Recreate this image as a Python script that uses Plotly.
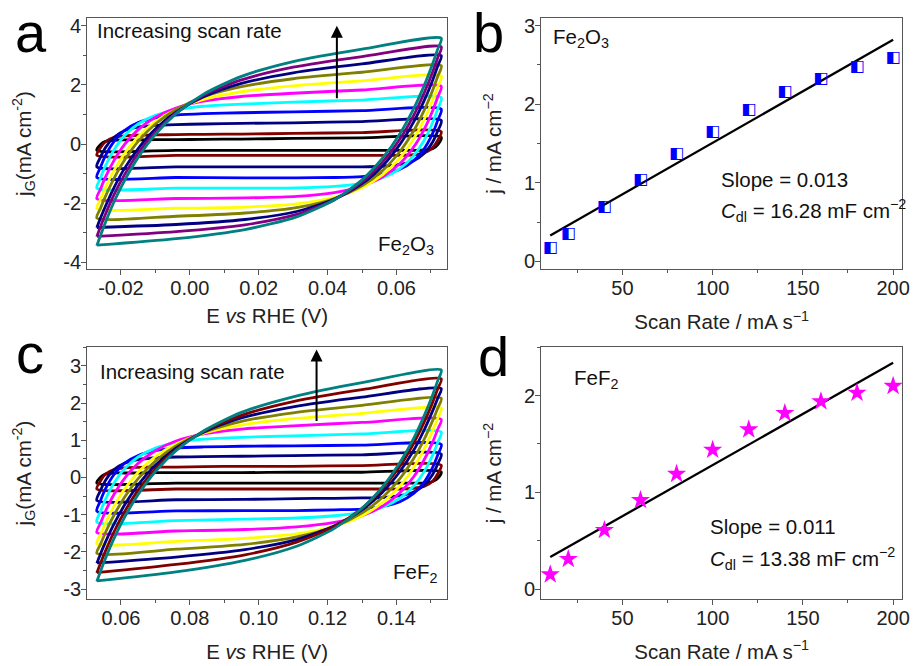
import plotly.graph_objects as go

FONT = "Liberation Sans, Arial, sans-serif"

# ---------------- Panel a: CV loops of Fe2O3 (E in V, j in mA cm^-2) ----------------
E_fwd_a = [-0.027, -0.026, -0.0245, -0.022, -0.019, -0.015, -0.010, -0.004, 0.004, 0.015, 0.030, 0.050, 0.073]
E_rev_a = [0.073, 0.072, 0.0705, 0.068, 0.065, 0.061, 0.056, 0.050, 0.042, 0.031, 0.016, -0.004, -0.027]
j_fwd_a = [
    [-0.21, -0.02, 0.09, 0.13, 0.14, 0.14, 0.15, 0.15, 0.16, 0.17, 0.19, 0.21, 0.23],
    [-0.38, -0.13, 0.08, 0.23, 0.28, 0.30, 0.31, 0.32, 0.33, 0.34, 0.36, 0.39, 0.42],
    [-0.77, -0.46, -0.12, 0.23, 0.45, 0.57, 0.63, 0.66, 0.68, 0.70, 0.72, 0.76, 0.80],
    [-1.13, -0.80, -0.39, 0.09, 0.46, 0.73, 0.89, 0.98, 1.03, 1.06, 1.09, 1.13, 1.18],
    [-1.49, -1.16, -0.74, -0.19, 0.28, 0.68, 0.97, 1.16, 1.28, 1.35, 1.42, 1.49, 1.57],
    [-1.85, -1.54, -1.12, -0.55, -0.02, 0.49, 0.91, 1.22, 1.45, 1.61, 1.72, 1.83, 1.95],
    [-2.18, -1.88, -1.47, -0.89, -0.33, 0.25, 0.76, 1.17, 1.51, 1.77, 1.97, 2.14, 2.30],
    [-2.50, -2.19, -1.77, -1.16, -0.55, 0.09, 0.68, 1.17, 1.60, 1.94, 2.21, 2.43, 2.65],
    [-2.83, -2.52, -2.10, -1.47, -0.83, -0.15, 0.51, 1.08, 1.60, 2.05, 2.41, 2.71, 2.99],
    [-3.13, -2.81, -2.37, -1.71, -1.04, -0.30, 0.41, 1.05, 1.65, 2.17, 2.60, 2.96, 3.29],
    [-3.44, -3.11, -2.65, -1.95, -1.24, -0.45, 0.33, 1.03, 1.69, 2.29, 2.79, 3.21, 3.58],
]
j_rev_a = [
    [0.23, -0.02, -0.16, -0.20, -0.21, -0.21, -0.21, -0.21, -0.21, -0.21, -0.21, -0.21, -0.21],
    [0.42, 0.13, -0.12, -0.30, -0.36, -0.38, -0.38, -0.38, -0.38, -0.38, -0.38, -0.38, -0.38],
    [0.80, 0.45, 0.07, -0.32, -0.56, -0.69, -0.75, -0.77, -0.77, -0.77, -0.77, -0.77, -0.77],
    [1.18, 0.81, 0.36, -0.17, -0.56, -0.85, -1.02, -1.10, -1.13, -1.14, -1.14, -1.13, -1.13],
    [1.57, 1.20, 0.73, 0.12, -0.39, -0.83, -1.14, -1.33, -1.43, -1.48, -1.49, -1.49, -1.49],
    [1.95, 1.60, 1.13, 0.49, -0.10, -0.66, -1.11, -1.42, -1.64, -1.77, -1.82, -1.84, -1.85],
    [2.30, 1.95, 1.49, 0.82, 0.18, -0.47, -1.03, -1.47, -1.80, -2.02, -2.13, -2.17, -2.18],
    [2.65, 2.30, 1.82, 1.13, 0.45, -0.25, -0.89, -1.41, -1.84, -2.15, -2.33, -2.44, -2.50],
    [2.99, 2.65, 2.16, 1.46, 0.75, -0.01, -0.73, -1.34, -1.86, -2.28, -2.55, -2.72, -2.82],
    [3.29, 2.93, 2.44, 1.72, 0.97, 0.17, -0.60, -1.28, -1.88, -2.38, -2.73, -2.96, -3.12],
    [3.58, 3.22, 2.72, 1.97, 1.20, 0.35, -0.47, -1.21, -1.88, -2.46, -2.89, -3.20, -3.42],
]
colors_a = ["#000000", "#800000", "#000080", "#0000ff", "#00ffff", "#ff00ff", "#ffff00", "#808000", "#000080", "#800080", "#008080"]

# ---------------- Panel c: CV loops of FeF2 ----------------
E_fwd_c = [0.053, 0.054, 0.0555, 0.058, 0.061, 0.065, 0.070, 0.076, 0.084, 0.095, 0.110, 0.130, 0.153]
E_rev_c = [0.153, 0.152, 0.1505, 0.148, 0.145, 0.141, 0.136, 0.130, 0.122, 0.111, 0.096, 0.076, 0.053]
j_fwd_c = [
    [-0.15, 0.00, 0.09, 0.12, 0.12, 0.12, 0.13, 0.13, 0.13, 0.13, 0.14, 0.14, 0.15],
    [-0.31, -0.10, 0.09, 0.21, 0.26, 0.27, 0.28, 0.28, 0.29, 0.30, 0.30, 0.32, 0.33],
    [-0.62, -0.36, -0.08, 0.21, 0.38, 0.48, 0.53, 0.55, 0.56, 0.57, 0.59, 0.61, 0.63],
    [-0.91, -0.64, -0.31, 0.08, 0.38, 0.59, 0.72, 0.79, 0.82, 0.84, 0.85, 0.87, 0.89],
    [-1.20, -0.93, -0.59, -0.15, 0.23, 0.55, 0.79, 0.94, 1.03, 1.08, 1.12, 1.17, 1.22],
    [-1.48, -1.24, -0.91, -0.45, -0.03, 0.38, 0.72, 0.98, 1.17, 1.30, 1.39, 1.48, 1.56],
    [-1.78, -1.55, -1.23, -0.77, -0.32, 0.14, 0.56, 0.90, 1.19, 1.41, 1.58, 1.72, 1.86],
    [-2.04, -1.81, -1.48, -1.01, -0.54, -0.03, 0.44, 0.85, 1.21, 1.51, 1.74, 1.94, 2.13],
    [-2.31, -2.07, -1.74, -1.25, -0.75, -0.20, 0.33, 0.79, 1.22, 1.60, 1.90, 2.16, 2.39],
    [-2.57, -2.32, -1.98, -1.46, -0.93, -0.34, 0.23, 0.75, 1.24, 1.67, 2.04, 2.36, 2.65],
    [-2.80, -2.54, -2.18, -1.64, -1.08, -0.46, 0.16, 0.72, 1.25, 1.75, 2.17, 2.55, 2.89],
]
j_rev_c = [
    [0.15, -0.02, -0.11, -0.15, -0.15, -0.15, -0.15, -0.15, -0.15, -0.15, -0.15, -0.15, -0.15],
    [0.33, 0.10, -0.10, -0.24, -0.29, -0.31, -0.31, -0.31, -0.31, -0.31, -0.31, -0.31, -0.31],
    [0.63, 0.37, 0.08, -0.21, -0.39, -0.49, -0.54, -0.55, -0.56, -0.57, -0.59, -0.60, -0.62],
    [0.89, 0.61, 0.27, -0.13, -0.43, -0.65, -0.78, -0.85, -0.87, -0.89, -0.89, -0.90, -0.91],
    [1.22, 0.95, 0.60, 0.15, -0.23, -0.56, -0.80, -0.94, -1.03, -1.09, -1.12, -1.16, -1.20],
    [1.56, 1.30, 0.95, 0.47, 0.02, -0.41, -0.77, -1.03, -1.21, -1.33, -1.40, -1.44, -1.48],
    [1.86, 1.60, 1.26, 0.76, 0.27, -0.23, -0.67, -1.03, -1.31, -1.52, -1.64, -1.72, -1.78],
    [2.13, 1.87, 1.53, 1.02, 0.51, -0.03, -0.53, -0.95, -1.32, -1.60, -1.80, -1.93, -2.04],
    [2.39, 2.14, 1.79, 1.27, 0.73, 0.16, -0.39, -0.87, -1.30, -1.67, -1.94, -2.14, -2.30],
    [2.65, 2.39, 2.02, 1.48, 0.92, 0.30, -0.29, -0.83, -1.32, -1.74, -2.08, -2.34, -2.56],
    [2.89, 2.61, 2.22, 1.65, 1.05, 0.40, -0.25, -0.83, -1.37, -1.85, -2.23, -2.54, -2.78],
]
colors_c = ["#000000", "#800000", "#000080", "#0000ff", "#00ffff", "#ff00ff", "#ffff00", "#808000", "#000080", "#800000", "#008080"]

# ---------------- Panels b, d: current vs scan rate ----------------
scan_rate = [10, 20, 40, 60, 80, 100, 120, 140, 160, 180, 200]
j_fe2o3 = [0.17, 0.35, 0.69, 1.04, 1.37, 1.65, 1.93, 2.15, 2.32, 2.47, 2.59]
j_fef2 = [0.15, 0.31, 0.61, 0.92, 1.19, 1.44, 1.65, 1.82, 1.94, 2.03, 2.10]
fit_x = [10, 200]
fit_fe2o3 = [0.33, 2.82]
fit_fef2 = [0.33, 2.34]

fig = go.Figure()

def add_loops(Ef, Er, jf, jr, cols, xa, ya):
    for f, r, c in zip(jf, jr, cols):
        fig.add_trace(go.Scatter(x=Ef + Er[1:], y=f + r[1:], mode="lines",
                                 line=dict(color=c, width=2.8, shape="spline", smoothing=0.7),
                                 xaxis=xa, yaxis=ya, showlegend=False, hoverinfo="skip"))

add_loops(E_fwd_a, E_rev_a, j_fwd_a, j_rev_a, colors_a, "x", "y")
add_loops(E_fwd_c, E_rev_c, j_fwd_c, j_rev_c, colors_c, "x3", "y3")

fig.add_trace(go.Scatter(x=fit_x, y=fit_fe2o3, mode="lines", line=dict(color="black", width=2.3), xaxis="x2", yaxis="y2", showlegend=False))
fig.add_trace(go.Scatter(x=scan_rate, y=j_fe2o3, mode="text", text=["◧"] * len(scan_rate),
                         textfont=dict(family="DejaVu Sans", size=16, color="#0000ff"), textposition="middle center",
                         xaxis="x2", yaxis="y2", showlegend=False))
fig.add_trace(go.Scatter(x=fit_x, y=fit_fef2, mode="lines", line=dict(color="black", width=2.3), xaxis="x4", yaxis="y4", showlegend=False))
fig.add_trace(go.Scatter(x=scan_rate, y=j_fef2, mode="markers", marker=dict(symbol="star", size=14.5, color="#ff00ff", line=dict(width=0)),
                         xaxis="x4", yaxis="y4", showlegend=False))

TICK_SIZE = 20
TITLE_SIZE = 20.5

ax_common = dict(showline=True, mirror=True, linecolor="#555555", linewidth=1.3, ticks="outside", ticklen=5, tickwidth=1.2, tickcolor="#555555",
                 showgrid=False, zeroline=False, tickfont=dict(family=FONT, size=TICK_SIZE, color="#222"), ticklabelstandoff=-4)

def mk(title, domain, rng, tv, minor_d, anchor, standoff, fmt):
    d = dict(ax_common)
    d.update(domain=domain, range=rng, tickmode="array", tickvals=tv, ticktext=[fmt(v) for v in tv], anchor=anchor,
             title=dict(text=title, font=dict(family=FONT, size=TITLE_SIZE, color="#222"), standoff=standoff),
             minor=dict(ticks="outside", ticklen=3, tickwidth=1, tickcolor="#555555", dtick=minor_d, tick0=0, showgrid=False))
    return d

f2 = lambda v: ("%.2f" % v)
fi = lambda v: ("%d" % round(v))

xa_d = [0.0955, 0.4897]
xb_d = [0.5928, 0.9881]
ytop = [0.5961, 0.9775]
ybot = [0.0961, 0.4775]

fig.update_layout(
    width=921, height=666, margin=dict(l=0, r=0, t=0, b=0), plot_bgcolor="white", paper_bgcolor="white",
    xaxis=mk("E <i>vs</i> RHE (V)", xa_d, [-0.0298, 0.0747], [-0.02, 0, 0.02, 0.04, 0.06], 0.01, "y", 10, f2),
    yaxis=mk("j<sub>G</sub>(mA cm<sup>-2</sup>)", ytop, [-4.23, 4.27], [-4, -2, 0, 2, 4], 1, "x", 26, fi),
    xaxis2=mk("Scan Rate / mA s<sup>−1</sup>", xb_d, [5, 205], [50, 100, 150, 200], 25, "y2", 16, fi),
    yaxis2=mk("j / mA cm<sup>−2</sup>", ytop, [-0.1, 3.1], [0, 1, 2, 3], 0.5, "x2", 16, fi),
    xaxis3=mk("E <i>vs</i> RHE (V)", xa_d, [0.0502, 0.1547], [0.06, 0.08, 0.10, 0.12, 0.14], 0.01, "y3", 16, f2),
    yaxis3=mk("j<sub>G</sub>(mA cm<sup>-2</sup>)", ybot, [-3.26, 3.5], [-3, -2, -1, 0, 1, 2, 3], 0.5, "x3", 26, fi),
    xaxis4=mk("Scan Rate / mA s<sup>−1</sup>", xb_d, [5, 205], [50, 100, 150, 200], 25, "y4", 16, fi),
    yaxis4=mk("j / mA cm<sup>−2</sup>", ybot, [-0.1, 2.5], [0, 1, 2], 0.5, "x4", 16, fi),
)

def px(x, y):
    return x / 921, 1 - y / 666

anns = []
for lab, (x, y) in [("a", (31, 30)), ("b", (493, 30)), ("c", (30, 354)), ("d", (498, 357))]:
    X, Y = px(x, y)
    anns.append(dict(text=lab, x=X, y=Y, xref="paper", yref="paper", showarrow=False, xanchor="center", yanchor="middle",
                     font=dict(family=FONT, size=56, color="black")))

def t(text, x, y, size=TITLE_SIZE):
    X, Y = px(x, y)
    return dict(text=text, x=X, y=Y, xref="paper", yref="paper", showarrow=False, xanchor="left", yanchor="middle",
                font=dict(family=FONT, size=size, color="#111"))

anns += [
    t("Increasing scan rate", 96, 28),
    t("Increasing scan rate", 99, 372),
    t("Fe<sub>2</sub>O<sub>3</sub>", 379, 245),
    t("FeF<sub>2</sub>", 394, 576),
    t("Fe<sub>2</sub>O<sub>3</sub>", 556, 35),
    t("FeF<sub>2</sub>", 577, 380),
    t("Slope = 0.013", 725, 178),
    t("<i>C</i><sub>dl</sub> = 16.28 mF cm<sup>−2</sup>", 725, 210),
    t("Slope = 0.011", 714, 529),
    t("<i>C</i><sub>dl</sub> = 13.38 mF cm<sup>−2</sup>", 714, 561),
    dict(x=0.0427, y=4.0, ax=0.0427, ay=1.5, xref="x", yref="y", axref="x", ayref="y", showarrow=True,
         arrowhead=2, arrowsize=1.2, arrowwidth=2, arrowcolor="black", text=""),
    dict(x=0.1168, y=3.44, ax=0.1168, ay=1.48, xref="x3", yref="y3", axref="x3", ayref="y3", showarrow=True,
         arrowhead=2, arrowsize=1.2, arrowwidth=2, arrowcolor="black", text=""),
]
fig.update_layout(annotations=anns)
fig.write_html("out.html")
